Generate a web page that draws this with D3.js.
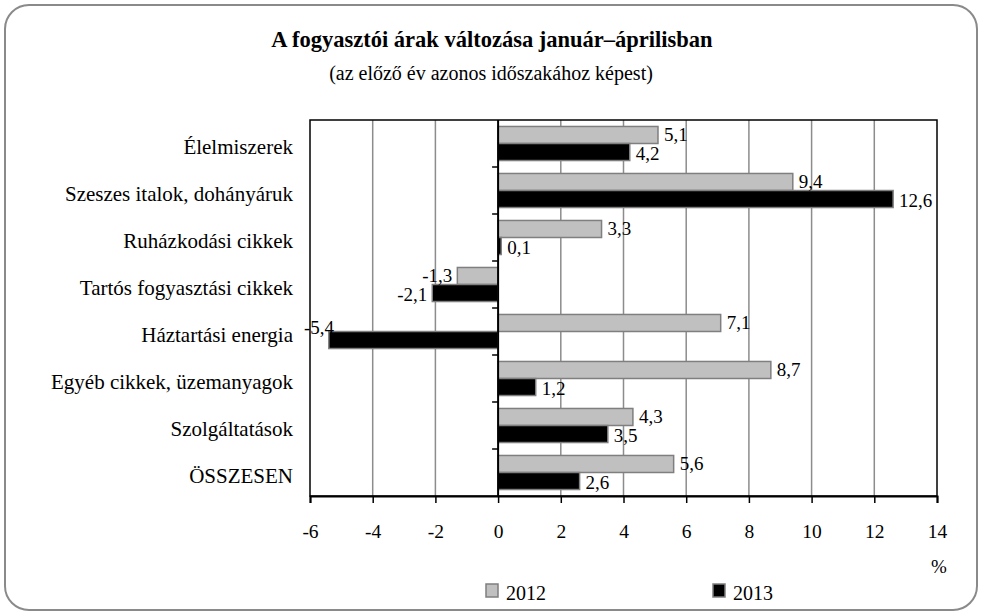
<!DOCTYPE html>
<html><head><meta charset="utf-8">
<script src="https://cdn.jsdelivr.net/npm/d3@7"></script>
<style>body{margin:0;background:#fff}svg{display:block}</style>
</head><body><svg id="c" width="982" height="615" font-family="'Liberation Serif', 'DejaVu Serif', serif"></svg>
<script>
const categories = ["Élelmiszerek","Szeszes italok, dohányáruk","Ruházkodási cikkek","Tartós fogyasztási cikkek","Háztartási energia","Egyéb cikkek, üzemanyagok","Szolgáltatások","ÖSSZESEN"];
const series = ["2012","2013"];
const values2012 = [5.1, 9.4, 3.3, -1.3, 7.1, 8.7, 4.3, 5.6];
const values2013 = [4.2, 12.6, 0.1, -2.1, -5.4, 1.2, 3.5, 2.6];
const xTicks = [-6,-4,-2,0,2,4,6,8,10,12,14];
const title = "A fogyasztói árak változása január–áprilisban";
const subtitle = "(az előző év azonos időszakához képest)";
const unit = "%";

const FONT = "'Liberation Serif', 'DejaVu Serif', serif";
const svg = d3.select("#c");
const colors = {"2012":"#c0c0c0","2013":"#000000"};
const L = 310, R = 937, T = 120, B = 496;

svg.append("rect").attr("x",5).attr("y",5).attr("width",972).attr("height",605)
  .attr("rx",24).attr("fill","#fff").attr("stroke","#8a8a8a").attr("stroke-width",2);

svg.append("text").attr("x",492).attr("y",47).attr("text-anchor","middle").attr("font-family",FONT)
  .attr("font-size",22.5).attr("font-weight","bold").text(title);
svg.append("text").attr("x",491).attr("y",80).attr("text-anchor","middle").attr("font-family",FONT)
  .attr("font-size",20).text(subtitle);

const x = d3.scaleLinear().domain([-6,14]).range([L,R]);
const y = d3.scaleBand().domain(categories).range([T,B]);
const y1 = d3.scaleBand().domain(series).range([0,y.bandwidth()]).paddingOuter(0.38);

svg.append("g").selectAll("line").data(xTicks.filter(t=>t!==-6&&t!==14&&t!==0)).join("line")
  .attr("x1",d=>x(d)).attr("x2",d=>x(d)).attr("y1",T).attr("y2",B)
  .attr("stroke","#8c8c8c").attr("stroke-width",1.5);

svg.append("rect").attr("x",L).attr("y",T).attr("width",R-L).attr("height",B-T)
  .attr("fill","none").attr("stroke","#000").attr("stroke-width",1.5);

const data = [];
categories.forEach((c,i)=>{
  data.push({cat:c, s:"2012", v:values2012[i]});
  data.push({cat:c, s:"2013", v:values2013[i]});
});

svg.append("g").selectAll("rect").data(data).join("rect")
  .attr("x",d=>x(Math.min(0,d.v))).attr("width",d=>Math.abs(x(d.v)-x(0)))
  .attr("y",d=>y(d.cat)+y1(d.s)).attr("height",y1.bandwidth())
  .attr("fill",d=>colors[d.s]).attr("stroke","#7f7f7f").attr("stroke-width",1.5);

svg.append("line").attr("x1",x(0)).attr("x2",x(0)).attr("y1",T).attr("y2",B)
  .attr("stroke","#000").attr("stroke-width",2);
svg.append("g").selectAll("line").data(categories.slice(1)).join("line")
  .attr("x1",x(0)-6).attr("x2",x(0)).attr("y1",d=>y(d)).attr("y2",d=>y(d))
  .attr("stroke","#000").attr("stroke-width",1.5);

const fmt = v => String(v).replace(".",",");
svg.append("g").selectAll("text").data(data).join("text")
  .attr("font-family",FONT).attr("font-size",19)
  .attr("text-anchor",d=>d.v>=0?"start":"end")
  .attr("x",d=>{
    if (d.v>=0) return x(d.v)+6;
    const px = x(d.v)-5;
    return Math.max(px, L+24);
  })
  .attr("y",d=>{
    const cy = y(d.cat)+y1(d.s)+y1.bandwidth()/2+6;
    if (d.v<0 && x(d.v)-5 < L+24) return cy-12;
    return cy + (d.s==="2013"?2:0);
  })
  .text(d=>fmt(d.v));

svg.append("g").selectAll("text").data(categories).join("text")
  .attr("font-family",FONT)
  .attr("x",293).attr("y",d=>y(d)+y.bandwidth()/2+10)
  .attr("text-anchor","end").attr("font-size",21).text(d=>d);

const xa = svg.append("g").attr("transform",`translate(0,${B})`)
  .call(d3.axisBottom(x).tickValues(xTicks).tickSize(7).tickPadding(21).tickFormat(d=>String(d)));
xa.attr("font-family",FONT).attr("font-size",19.5);
xa.select(".domain").attr("stroke","#000").attr("stroke-width",2);
xa.selectAll(".tick line").attr("stroke","#000").attr("stroke-width",1.5);
xa.selectAll(".tick text").attr("fill","#000");

svg.append("text").attr("x",939).attr("y",573).attr("text-anchor","middle").attr("font-family",FONT).attr("font-size",19).text(unit);

const leg = svg.append("g");
const legX = [486, 713];
series.forEach((s,i)=>{
  leg.append("rect").attr("x",legX[i]).attr("y",584).attr("width",12).attr("height",13)
    .attr("fill",colors[s]).attr("stroke","#7f7f7f").attr("stroke-width",1.5);
  leg.append("text").attr("x",legX[i]+20).attr("y",600).attr("font-family",FONT).attr("font-size",20).text(s);
});
</script></body></html>
